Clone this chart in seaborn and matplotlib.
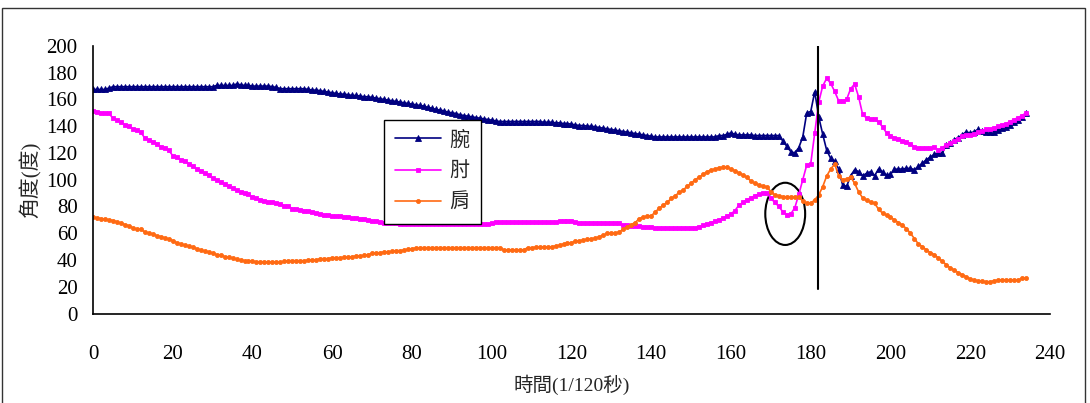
import matplotlib
matplotlib.use("Agg")
import matplotlib.pyplot as plt
from matplotlib.patches import Ellipse, Rectangle
import numpy as np
import pandas as pd
import seaborn as sns

# ---------------- data ----------------
series_names = ["腕", "肘", "肩"]
series_colors = ["#000080", "#FF00FF", "#FF6A13"]

wrist = (
    [167.5, 167.5, 167.5, 167.5, 168.5, 169.5, 169.5, 169.5, 169.5, 169.5]
    + [169.5] * 10
    + [169.5] * 10
    + [169.5, 170.5, 170.5, 170.5, 170.5, 170.5, 171.5, 171, 170.5, 170.5]
    + [170, 170, 170, 170, 170, 169.5, 169, 168, 168, 168]
    + [168, 168, 168, 168, 167.5, 167, 167, 166.5, 166, 165.5]
    + [165, 164.5, 164, 164, 163.5, 163, 163, 162.5, 162, 162]
    + [161.5, 161, 160.5, 160, 159.5, 159, 158.5, 158, 157.5, 157]
    + [156.5, 156, 155.5, 155, 154, 153.5, 152.5, 152, 151.5, 150.5]
    + [150, 149.5, 148.5, 148, 147.5, 147, 146.5, 146, 145.5, 145]
    + [144.5, 144, 143.5, 143.5, 143.5, 143.5, 143.5, 143.5, 143.5, 143.5]
    + [143.5, 143.5, 143.5, 143, 143, 143, 142.5, 142.5, 142, 142]
    + [141.5, 141, 140.5, 140.5, 140, 140, 139.5, 139, 138.5, 138]
    + [137.5, 137, 136.5, 136, 135.5, 135, 134.5, 134, 133.5, 133]
    + [132.5, 132, 132, 132, 132, 132, 132, 132, 132, 132]
    + [132, 132, 132, 132, 132, 132, 132, 133, 133, 134]
    + [135, 134, 133.5, 133.5, 133.5, 133.5, 133, 133, 133, 133]
    + [133, 133, 133, 129, 125, 121, 120, 124, 132, 150]
    + [151, 165.8, 147, 134, 122, 116, 114, 108, 96, 95]
    + [103, 107.5, 106, 103, 104.8, 106, 103, 108, 106, 103.5]
    + [104, 107.8, 108, 108, 108.5, 108.5, 107.5, 110, 112.3, 115]
    + [117, 119, 120, 120, 126, 127.5, 129.7, 131.5, 133.5, 135.9]
    + [134.7, 136, 137.6, 136.5, 136, 136, 136, 137, 138.5, 139.6]
    + [141, 143.4, 145, 147, 149.6]
)

elbow = (
    [151.6, 151, 150, 149.6, 149.6, 146, 144.6, 143, 141, 140]
    + [138, 137, 135.6, 131, 129.7, 128.5, 127, 124.5, 123.5, 122]
    + [118, 116.7, 115, 114.2, 112, 110, 108, 106.5, 105, 103.5]
    + [101, 100, 98, 96.6, 95, 93.5, 92.3, 91, 90, 89]
    + [87, 86, 85, 84.3, 83.5, 83, 82.3, 81.5, 80.5, 80]
    + [78.5, 78, 77.5, 77, 76.5, 76, 75, 74.5, 73.6, 73.5]
    + [73.1, 73, 72.8, 72.5, 72, 71.5, 71.1, 71, 71, 70]
    + [69.5, 69, 68.6, 68, 68, 67.5, 67.5, 67, 67, 67]
    + [66.9] * 10
    + [66.9] * 10
    + [67.5, 68.2, 68.2, 68.2, 68.2, 68.2, 68.2, 68.2, 68.2, 68.2]
    + [68.2, 68.2, 68.2, 68.2, 68.2, 68.2, 68.2, 69.4, 69.4, 69.4]
    + [69.4, 68.2, 67.4, 67.4, 67.4, 67.4, 67.4, 67.4, 67.4, 67.4]
    + [67.4, 67.4, 67.4, 66.1, 66, 65.6, 65.5, 65.4, 65, 64.8]
    + [64.5, 64.1, 64.1, 64.1, 64.1, 64.1, 64.1, 64.1, 64.1, 64.1]
    + [64.1, 64.1, 65, 66, 67, 68, 69, 70, 71.5, 73]
    + [74.4, 77, 81, 83, 85, 86.6, 88, 89.3, 90, 90.3]
    + [86, 83, 80, 76, 74, 74.5, 79, 89, 100, 111]
    + [112, 135, 158, 170, 175.8, 172, 166, 159, 159, 160]
    + [168, 171.5, 162, 149, 146, 145.1, 145.1, 143, 139.6, 135]
    + [133, 131.5, 130.5, 129, 128, 127, 124.5, 123.5, 123.5, 123.5]
    + [123.5, 124.5, 122.2, 124, 126, 127.5, 129, 130.5, 132.5, 133.4]
    + [133.4, 134.5, 135.5, 136.5, 137.6, 138, 139, 140, 140.9, 142]
    + [143.5, 145, 146.5, 148, 150]
)

shoulder = (
    [71.9, 71.5, 71, 70.6, 70, 69.5, 68.6, 67.5, 66.5, 65.6]
    + [64, 63, 62.9, 61, 60, 59.5, 58.1, 57.5, 56.5, 55.7]
    + [54.5, 52.9, 52, 51, 50.5, 49.5, 48.5, 47.5, 46.5, 46.2]
    + [45, 44, 43.7, 42.5, 42, 41.2, 40.5, 40, 39.5, 39.5]
    + [39, 38.7, 38.7, 38.7, 38.5, 38.3, 38.3, 38.3, 39, 39.5]
    + [39.5, 39.5, 39.5, 39.5, 40, 40, 40, 41, 41, 41]
    + [41.7, 41.7, 41.7, 42, 42, 42.5, 43, 43, 43.5, 44]
    + [45, 45, 45.5, 46, 46, 46.5, 47, 47, 47.5, 48]
    + [48.5, 49, 49.2, 49.2, 49.2, 49.2, 49.2, 49.2, 49.2, 49.2]
    + [49.2] * 10
    + [49.2, 49.2, 49.2, 47.5, 47.5, 47.5, 47.5, 47.5, 47.5, 49.2]
    + [49.2, 49.5, 49.5, 49.8, 49.8, 49.8, 50.5, 51, 52, 52.5]
    + [53, 54, 54.4, 55, 55.5, 56, 56.2, 57.5, 58.5, 59.9]
    + [60, 60, 61, 63, 64.9, 66.5, 68, 71, 72, 72.9]
    + [72.9, 76, 78.6, 81, 83, 86.1, 88, 90.5, 92.3, 95]
    + [97.3, 100, 101.8, 104, 106, 107.2, 108, 109, 109.3, 109.3]
    + [108, 106.7, 105, 103.5, 101.8, 99, 97.3, 96, 95, 94.8]
    + [91, 88.6, 88, 87.3, 87.3, 87.3, 87.3, 87.3, 84, 82.4]
    + [82.4, 85, 88.6, 94.8, 102.8, 108, 111.7, 103, 100, 100.5]
    + [102.2, 97.3, 91, 86.5, 84.5, 83.5, 82.4, 78, 75, 73.6]
    + [72, 70, 68, 66, 63.5, 60, 56, 52, 50, 47.5]
    + [45.5, 44, 41.5, 39, 36.5, 34, 32.5, 30.5, 29, 27.5]
    + [25.8, 25, 24.5, 24, 23.8, 23.8, 24.5, 25, 25, 25]
    + [25, 25, 25, 26.3, 26.3]
)

time = list(range(len(wrist)))

x_ticks = list(range(0, 241, 20))
y_ticks = list(range(0, 201, 20))
x_label = "時間(1/120秒)"
y_label = "角度(度)"

# ---------------- style ----------------
sns.set_style("white")
plt.rcParams["font.family"] = ["Liberation Serif", "Noto Sans CJK TC"]

fig = plt.figure(figsize=(10.9, 4.03), dpi=100)
ax = fig.add_axes([0.0853, 0.222, 0.8780, 0.664])

markers = ["^", "s", "o"]
msizes = [4.0, 2.9, 2.9]
for name, vals, col, mk, ms in zip(series_names, [wrist, elbow, shoulder],
                                   series_colors, markers, msizes):
    df = pd.DataFrame({"t": time, "v": vals})
    sns.lineplot(data=df, x="t", y="v", ax=ax, color=col, lw=1.2,
                 marker=mk, markersize=ms, markeredgewidth=0.6,
                 markeredgecolor=col, label=name)

# vertical reference line and ellipse annotation
ax.plot([181.8, 181.8], [18.5, 200], color="black", lw=1.5)
ax.add_patch(Ellipse((173.6, 74.5), 10.0, 46.5, fill=False,
                     edgecolor="black", lw=1.5))

ax.set_xlim(0, 240)
ax.set_ylim(0, 200)
ax.set_xticks(x_ticks)
ax.set_yticks(y_ticks)
ax.tick_params(axis="both", direction="in", length=6, width=1,
               labelsize=15, colors="black")
ax.tick_params(axis="x", pad=23)
ax.tick_params(axis="y", pad=11)
for s in ["top", "right"]:
    ax.spines[s].set_visible(False)
for s in ["left", "bottom"]:
    ax.spines[s].set_color("black")
    ax.spines[s].set_linewidth(1.2)

ax.set_xlabel(x_label, fontsize=14, labelpad=7)
ax.set_ylabel(y_label, fontsize=15, labelpad=3)

leg = ax.legend(loc="upper left", bbox_to_anchor=(0.304, 0.723),
                borderaxespad=0, fontsize=14.5, frameon=True, fancybox=False,
                handlelength=2.3, labelspacing=0.6, handletextpad=0.4,
                borderpad=0.55)
leg.get_frame().set_edgecolor("black")
leg.get_frame().set_linewidth(1.0)
leg.get_frame().set_alpha(1)

# outer chart border
fig.patches.append(Rectangle((2 / 1090, -0.05), 1083 / 1090, 1.05 - 8 / 403,
                             transform=fig.transFigure, fill=False,
                             edgecolor="#333333", lw=1.0))

fig.savefig("out.png", dpi=100)
